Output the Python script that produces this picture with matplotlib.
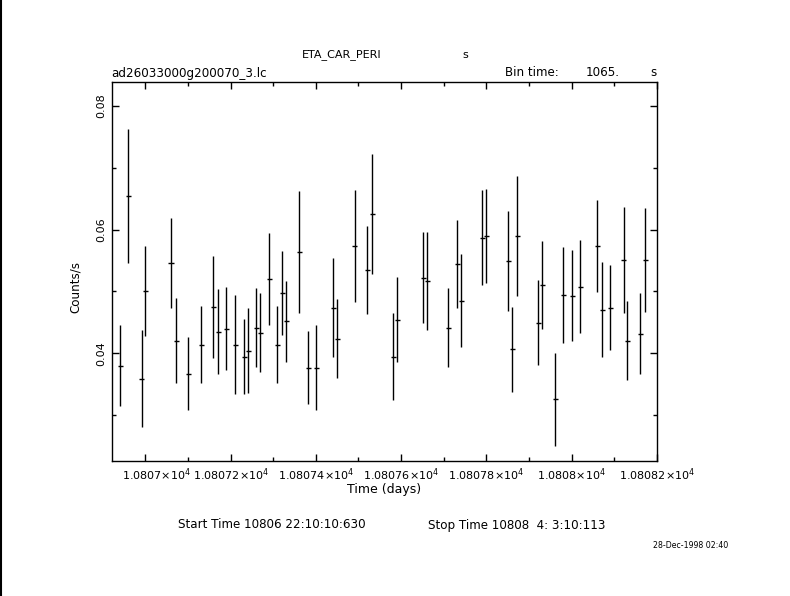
import numpy as np
import matplotlib
matplotlib.use('Agg')
import matplotlib.pyplot as plt
import matplotlib.transforms as mtransforms
from matplotlib.ticker import MultipleLocator, FuncFormatter
from matplotlib.lines import Line2D

# light curve, time in days, rate in counts/s
time = [10806.9414, 10806.9602, 10806.9915, 10807.0000, 10807.0603, 10807.0727,
        10807.1008, 10807.1313, 10807.1594, 10807.1712, 10807.1900, 10807.2111,
        10807.2321, 10807.2415, 10807.2603, 10807.2697, 10807.2908, 10807.3096,
        10807.3213, 10807.3307, 10807.3611, 10807.3823, 10807.4011, 10807.4409,
        10807.4503, 10807.4911, 10807.5207, 10807.5324, 10807.5816, 10807.5909,
        10807.6520, 10807.6613, 10807.7106, 10807.7317, 10807.7411, 10807.7903,
        10807.7997, 10807.8513, 10807.8607, 10807.8724, 10807.9217, 10807.9311,
        10807.9615, 10807.9803, 10808.0014, 10808.0201, 10808.0601, 10808.0718,
        10808.0905, 10808.1220, 10808.1304, 10808.1609, 10808.1726]
rate = [0.03801, 0.06543, 0.03591, 0.05011, 0.05462, 0.04204,
        0.03672, 0.04140, 0.04753, 0.04349, 0.04398, 0.04140,
        0.03946, 0.04043, 0.04414, 0.04333, 0.05204, 0.04140,
        0.04978, 0.04516, 0.05640, 0.03769, 0.03769, 0.04737,
        0.04237, 0.05737, 0.05349, 0.06253, 0.03946, 0.04543,
        0.05220, 0.05172, 0.04414, 0.05446, 0.04849, 0.05871,
        0.05898, 0.05495, 0.04065, 0.05898, 0.04495, 0.05108,
        0.03253, 0.04946, 0.04930, 0.05075, 0.05737, 0.04704,
        0.04737, 0.05511, 0.04204, 0.04317, 0.05511]
rate_err = [0.00661, 0.01091, 0.00780, 0.00731, 0.00723, 0.00688,
            0.00586, 0.00626, 0.00828, 0.00683, 0.00667, 0.00796,
            0.00610, 0.00691, 0.00642, 0.00642, 0.00747, 0.00626,
            0.00683, 0.00651, 0.00981, 0.00591, 0.00683, 0.00804,
            0.00634, 0.00909, 0.00707, 0.00973, 0.00699, 0.00691,
            0.00734, 0.00796, 0.00642, 0.00715, 0.00755, 0.00772,
            0.00763, 0.00812, 0.00691, 0.00973, 0.00683, 0.00715,
            0.00747, 0.00780, 0.00739, 0.00755, 0.00739, 0.00772,
            0.00691, 0.00860, 0.00642, 0.00659, 0.00841]
bin_time = 1065.0  # s
half_bin = bin_time / 86400.0 / 2

W, H = 790, 596
fig = plt.figure(figsize=(W / 100, H / 100), dpi=100)
ax = fig.add_axes([112 / W, 1 - 461 / H, 545 / W, 379 / H])

ax.errorbar(time, rate, yerr=rate_err, xerr=half_bin, fmt='none',
            ecolor='black', elinewidth=1.0, capsize=0)

ax.set_xlim(10806.9219, 10808.2001)
ax.set_ylim(0.02258, 0.08387)

ax.xaxis.set_major_locator(MultipleLocator(0.2))
ax.xaxis.set_minor_locator(MultipleLocator(0.1))
ax.yaxis.set_major_locator(MultipleLocator(0.02))
ax.yaxis.set_minor_locator(MultipleLocator(0.01))

def xfmt(v, pos):
    return r'%s$\times$10$^4$' % ('%g' % round(v / 1e4, 6))

ax.xaxis.set_major_formatter(FuncFormatter(xfmt))
ax.yaxis.set_major_formatter(FuncFormatter(lambda v, p: '%.2f' % v))

ax.tick_params(which='both', direction='in', top=True, right=True,
               color='black', width=1)
ax.tick_params(which='major', length=5, labelsize=8, pad=4)
ax.tick_params(which='minor', length=3)
for lab in ax.get_yticklabels():
    lab.set_rotation(90)
    lab.set_va('center')
for sp in ax.spines.values():
    sp.set_linewidth(1)

fig.text(342 / W, 1 - 55 / H, 'ETA_CAR_PERI', ha='center', va='center', fontsize=8)
fig.text(465 / W, 1 - 55 / H, 's', ha='center', va='center', fontsize=8)
fig.text(111 / W, 1 - 73 / H, 'ad26033000g200070_3.lc', ha='left', va='center', fontsize=8.6)
fig.text(505 / W, 1 - 73 / H, 'Bin time:', ha='left', va='center', fontsize=8.6)
fig.text(620 / W, 1 - 73 / H, '1065.', ha='right', va='center', fontsize=8.6)
fig.text(653 / W, 1 - 73 / H, 's', ha='center', va='center', fontsize=8.6)
fig.text(75 / W, 1 - 287 / H, 'Counts/s', ha='center', va='center', rotation=90, fontsize=8.6)
fig.text(384 / W, 1 - 490 / H, 'Time (days)', ha='center', va='center', fontsize=9)
fig.text(178 / W, 1 - 525 / H, 'Start Time 10806 22:10:10:630', ha='left', va='center', fontsize=8.6)
fig.text(428 / W, 1 - 525 / H, 'Stop Time 10808  4: 3:10:113', ha='left', va='center', fontsize=8.6)
fig.text(728 / W, 1 - 545 / H, '28-Dec-1998 02:40', ha='right', va='center', fontsize=5.7)

fig.add_artist(Line2D([0.0015, 0.0015], [0, 1], color='black', lw=1.5))

# first x label sits nudged right, inside the frame
fig.canvas.draw()
shift = mtransforms.ScaledTranslation(11 / 100, 0, fig.dpi_scale_trans)
for t in ax.xaxis.get_major_ticks():
    if abs(t.get_loc() - 10807.0) < 1e-6:
        t.label1.set_transform(t.label1.get_transform() + shift)

fig.savefig('out.png', dpi=100)
